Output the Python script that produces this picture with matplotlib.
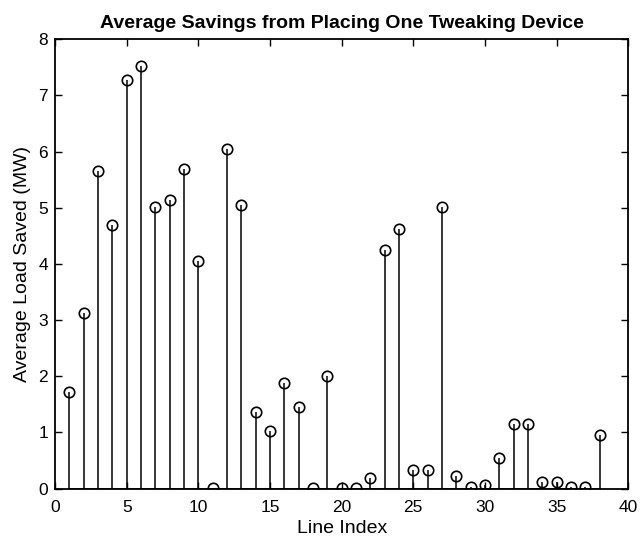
import matplotlib
matplotlib.use("Agg")
import matplotlib.pyplot as plt
import numpy as np

plt.rcParams['font.family'] = ['Liberation Sans', 'DejaVu Sans']

line_index = list(range(1, 39))
load_saved = [1.72, 3.13, 5.66, 4.70, 7.27, 7.53, 5.02, 5.13, 5.69, 4.05,
              0.01, 6.05, 5.04, 1.36, 1.03, 1.88, 1.45, 0.01, 2.00, 0.01,
              0.01, 0.18, 4.25, 4.63, 0.33, 0.33, 5.02, 0.23, 0.02, 0.07,
              0.55, 1.14, 1.14, 0.12, 0.12, 0.02, 0.02, 0.95]

fig = plt.figure(figsize=(6.41, 5.38), dpi=100)
ax = fig.add_axes([0.086, 0.092, 0.894, 0.835])

markerline, stemlines, baseline = ax.stem(line_index, load_saved, linefmt='k-',
                                          markerfmt='ko', basefmt='k-')
markerline.set_markerfacecolor('none')
markerline.set_markersize(7.5)
markerline.set_markeredgewidth(1.2)
stemlines.set_linewidth(1.1)
baseline.set_linewidth(1.3)

ax.set_xlim(0, 40)
ax.set_ylim(0, 8)
ax.set_xticks(range(0, 41, 5))
ax.set_yticks(range(0, 9))
ax.tick_params(direction='in', top=True, right=True, labelsize=12.5, length=5,
               width=1)
ax.tick_params(axis='x', pad=8)
ax.tick_params(axis='y', pad=5)
for s in ax.spines.values():
    s.set_linewidth(1.3)

ax.set_title('Average Savings from Placing One Tweaking Device',
             fontsize=14, fontweight='bold', pad=8)
ax.set_xlabel('Line Index', fontsize=14, labelpad=4)
ax.set_ylabel('Average Load Saved (MW)', fontsize=14, labelpad=5)

fig.savefig('out.png', dpi=100)
